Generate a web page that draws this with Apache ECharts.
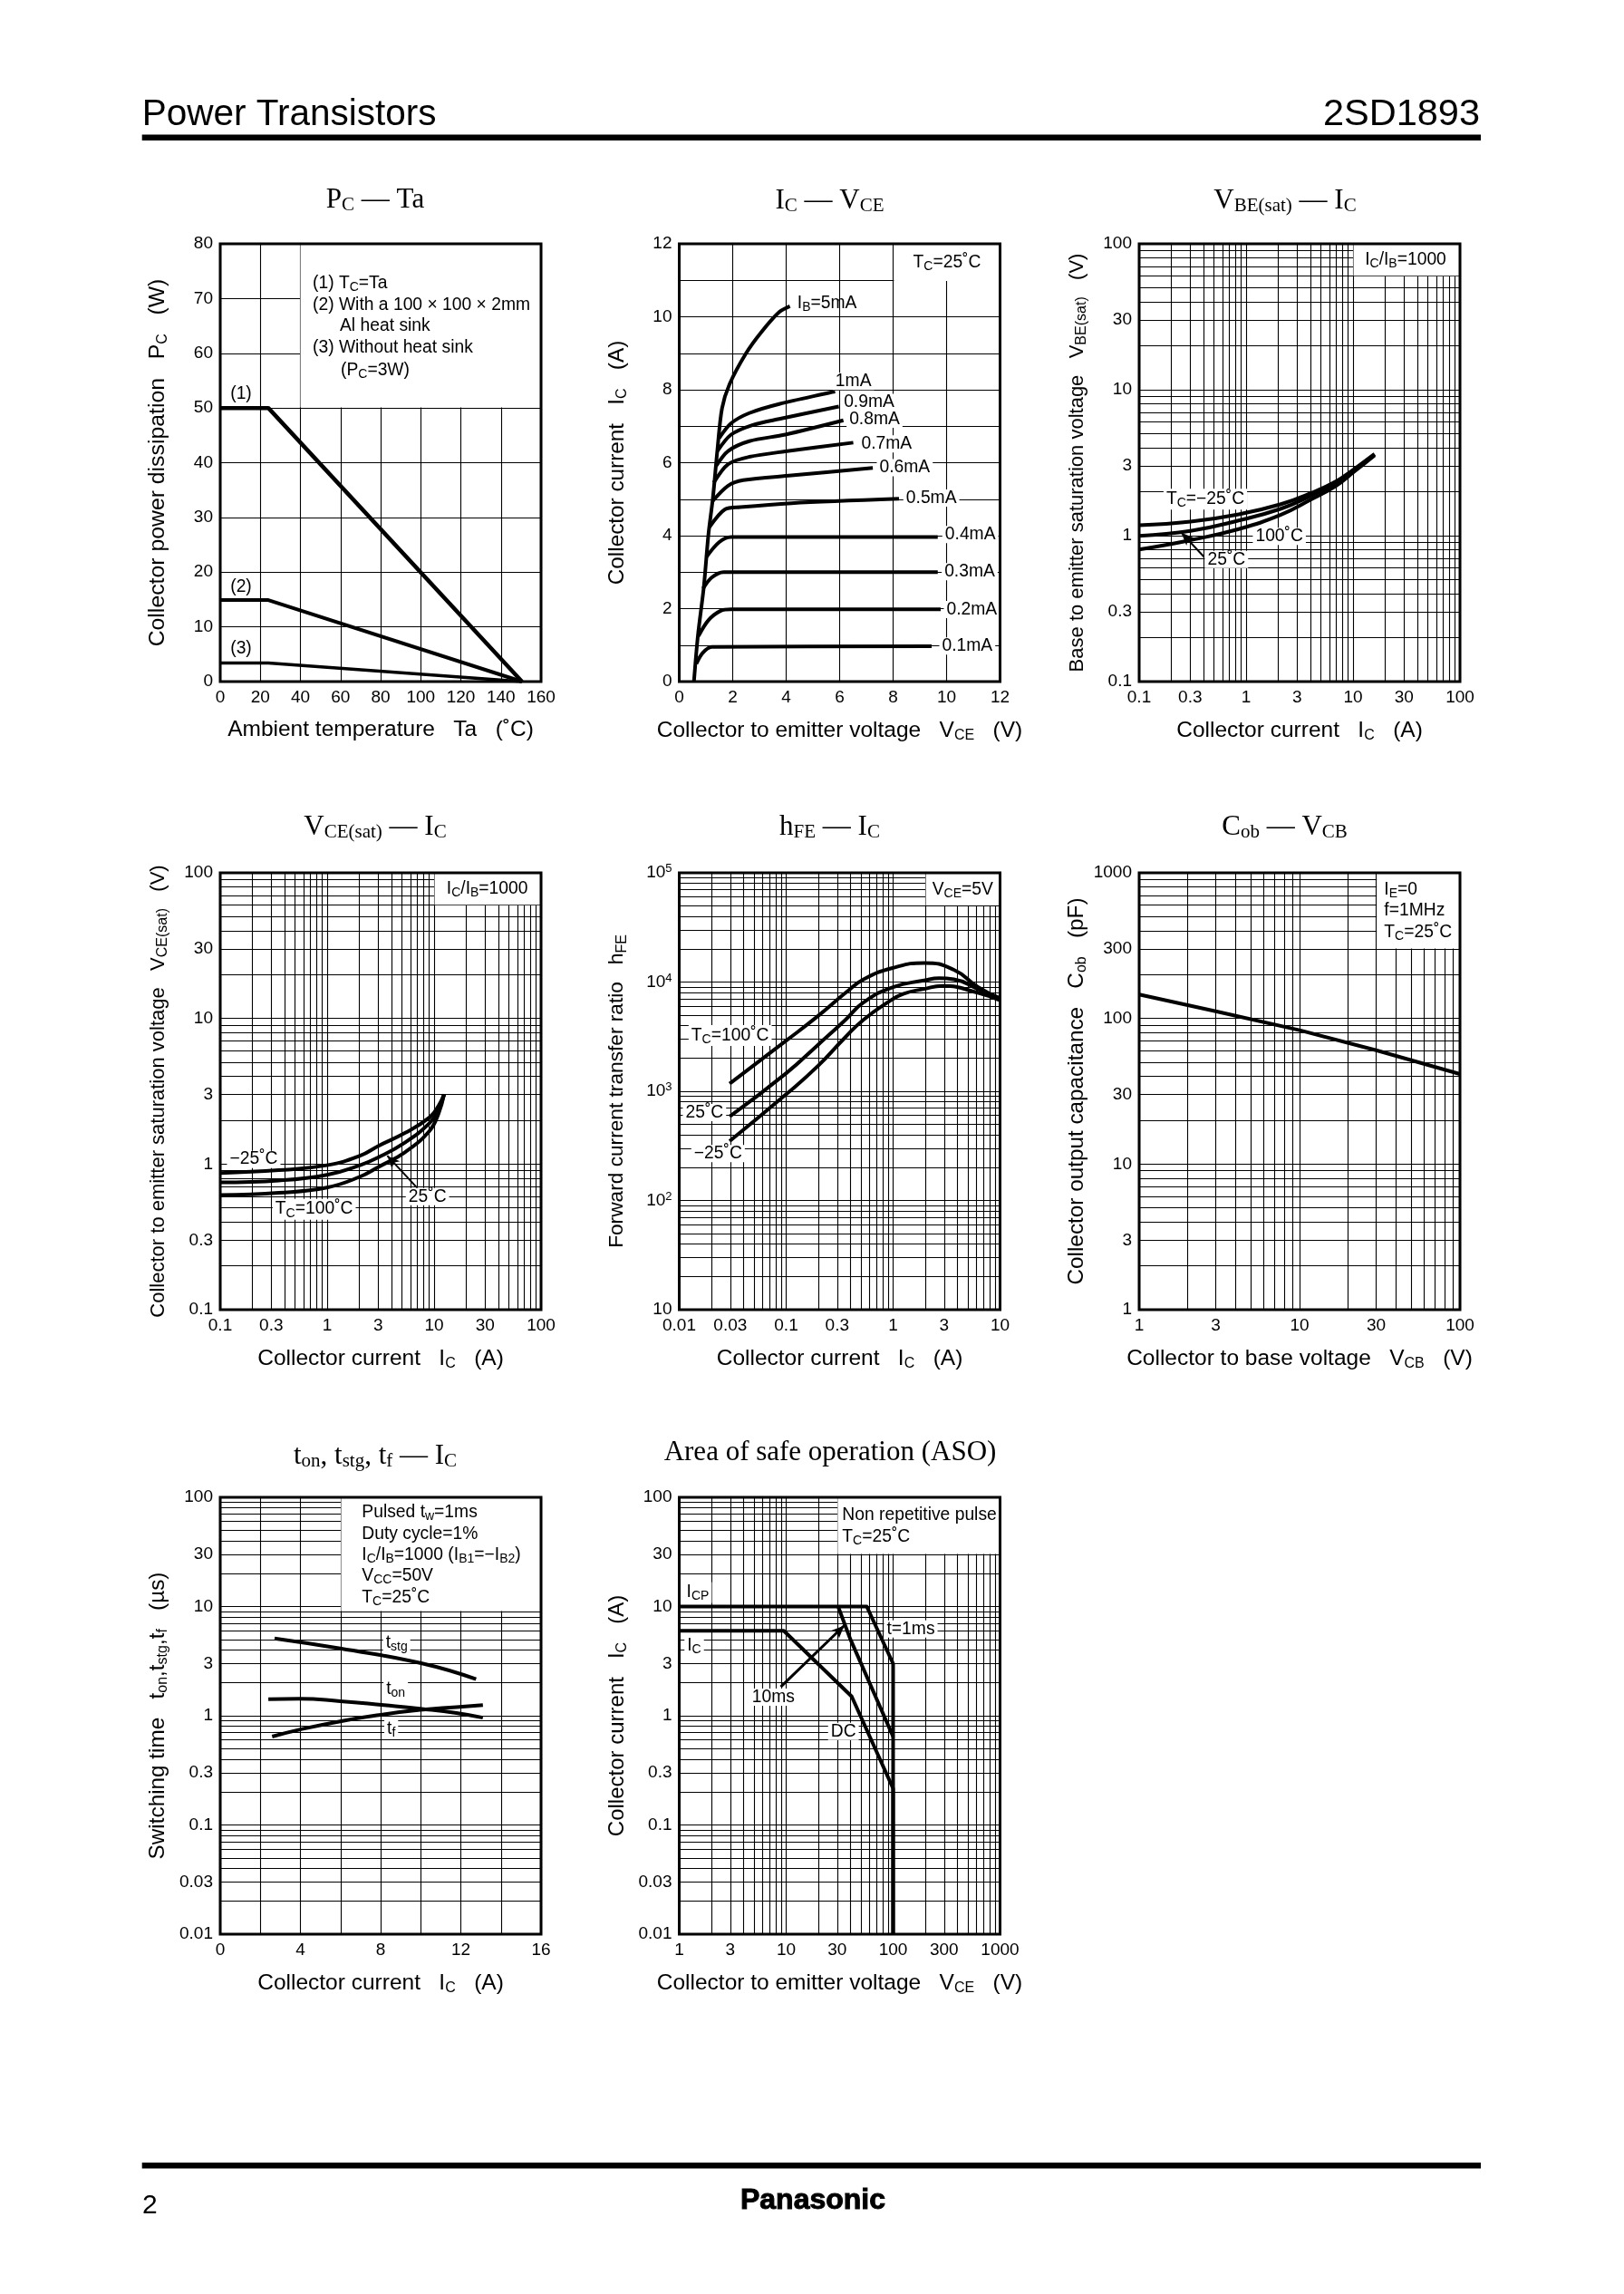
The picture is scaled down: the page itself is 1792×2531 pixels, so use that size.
<!DOCTYPE html>
<html><head><meta charset="utf-8">
<style>html,body{margin:0;padding:0;background:#fff}#c{width:1792px;height:2531px}</style>
<script src="https://cdn.jsdelivr.net/npm/echarts@6/dist/echarts.min.js"></script>
</head><body><div id="c"></div>
<script>
// ---------- values ----------
const pcTa1=[[0,50],[24,50],[150.5,0]];
const pcTa2=[[0,14.9],[24,14.9],[150.5,0]];
const pcTa3=[[0,3.4],[24,3.4],[150.5,0]];

const icEnvelope=[[0.55,0],[0.7,1.27],[0.92,2.6],[1.09,4.02],[1.26,5.04],[1.43,6.37],[1.6,7.49],[1.88,8.15],[2.5,9.0],[3.07,9.58],[3.74,10.13],[4.14,10.29]];
const ic1mA=[[1.49,6.67],[1.94,7.08],[2.62,7.36],[3.74,7.61],[5.83,7.95]];
const ic09=[[1.43,6.32],[1.94,6.77],[2.73,7.03],[3.74,7.2],[5.97,7.54]];
const ic08=[[1.38,5.91],[1.83,6.32],[2.62,6.59],[3.97,6.77],[6.14,7.16]];
const ic07=[[1.29,5.45],[1.83,5.96],[2.62,6.16],[3.97,6.31],[6.51,6.55]];
const ic06=[[1.24,4.94],[1.83,5.37],[2.39,5.52],[4.2,5.65],[7.24,5.86]];
const ic05=[[1.13,4.23],[1.71,4.72],[2.28,4.78],[4.2,4.89],[8.22,5.01]];
const ic04=[[1.01,3.41],[1.49,3.82],[1.94,3.96],[9.67,3.96]];
const ic03=[[0.89,2.55],[1.21,2.85],[1.66,3.0],[9.67,3.0]];
const ic02=[[0.72,1.25],[1.09,1.68],[1.55,1.94],[1.94,1.98],[9.78,1.98]];
const ic01=[[0.64,0.49],[0.87,0.78],[1.21,0.95],[9.44,0.97]];

const vbeIc=[0.1,0.302,0.853,2.12,4.06,6.83,10.1,15.9];
const vbeM25=[1.178,1.247,1.40,1.644,1.96,2.34,2.84,3.63];
const vbe25=[0.998,1.077,1.27,1.53,1.88,2.28,2.79,3.59];
const vbe100=[0.803,0.931,1.11,1.39,1.77,2.18,2.72,3.55];
const vbeLeader=[[0.248,1.047],[0.405,0.714]];

const vceIc=[0.1,0.352,0.995,2.03,3.0,5.38,9.06,11,12.4];
const vceM25=[0.869,0.908,0.982,1.14,1.33,1.64,2.09,2.51,3.01];
const vce25=[0.748,0.771,0.844,0.982,1.11,1.41,1.91,2.36,3.01];
const vce100=[0.612,0.635,0.69,0.819,0.953,1.21,1.69,2.22,3.01];
const vceLeader=[[3.65,1.14],[6.98,0.683]];

const hfe100=[[0.0296,1175],[0.1,2905],[0.2,4915],[0.36,7980],[0.53,10590],[1,13490],[1.95,14970],[3.7,12950],[6.2,8996],[10,7063]];
const hfe25=[[0.0296,587],[0.1,1462],[0.2,2680],[0.36,4530],[0.53,6516],[1,8996],[1.95,10330],[2.7,10840],[3.7,10590],[6.2,8650],[10,7063]];
const hfeM25=[[0.0296,350],[0.1,938],[0.2,1718],[0.36,3148],[0.53,4530],[0.89,6516],[1.24,7780],[1.95,8650],[2.9,9230],[6.2,7980],[10,6790]];

const cobLine=[[1,146],[3,112],[10,83],[30,60.5],[100,41.5]];

const tStg=[[2.71,5.1],[5.98,4.13],[9.97,3.04],[12.76,2.16]];
const tOn=[[2.4,1.42],[3.95,1.43],[5.98,1.36],[8.17,1.25],[9.97,1.16],[11.78,1.06],[13.1,0.96]];
const tF=[[2.59,0.644],[3.95,0.745],[5.98,0.889],[8.17,1.03],[9.97,1.13],[11.78,1.2],[13.1,1.25]];

const asoIcp=[[1,10],[56.7,10],[100,3],[100,0.01]];
const asoIc=[[1,6],[9.5,6],[41,1.5],[100,0.216],[100,0.01]];
const aso10ms=[[30.6,10],[39.7,5.06],[100,0.644]];
const asoLeader=[[34.9,6.7],[8.9,1.84]];

// tick labels
const ticks125=[0.1,0.3,1,3,10,30,100];
const hfeXTicks=[0.01,0.03,0.1,0.3,1,3,10];
const hfeYTicks=[10,100,1000,10000,100000];
const cobXTicks=[1,3,10,30,100];
const cobYTicks=[1,3,10,30,100,300,1000];
const swYTicks=[0.01,0.03,0.1,0.3,1,3,10,30,100];
const asoXTicks=[1,3,10,30,100,300,1000];

// ---------- layout ----------
const SANS='"Liberation Sans",Arial,sans-serif', SERIF='"Liberation Serif","Times New Roman",serif';
const colX=[243,749.5,1257], rowY=[269,963,1652], W=354, H=[483,482,482];
const sub={fontSize:14,fontFamily:SANS,fill:'#000',color:'#000',padding:[9,0,0,0]};
const nameSub={fontSize:16,fontFamily:SANS,color:'#000',padding:[11,0,0,0]};
const titleSub={fontSize:21,fontFamily:SERIF,fontWeight:'normal',color:'#000',padding:[11,0,0,0]};
const GRIDW=1.1, CURVE=4;

function decades(min,max){const out=[];for(let d=Math.round(Math.log10(min));d<Math.round(Math.log10(max));d++){for(let m=1;m<10;m++)out.push(+(m*Math.pow(10,d)).toPrecision(3));}out.push(max);return out;}

function base(pos,name,gap,fs){
  return {gridIndex:0,position:pos,nameLocation:'middle',name:name,nameGap:gap,
    nameTextStyle:{fontFamily:SANS,fontSize:fs,color:'#000',rich:{s:nameSub}},
    axisLine:{show:false},splitLine:{show:true,lineStyle:{color:'#000',width:GRIDW,opacity:1}},
    axisTick:{show:false},
    axisLabel:{show:true,color:'#000',fontFamily:SANS,fontSize:19,margin:pos==='bottom'?8.5:8,hideOverlap:false,showMinLabel:true,showMaxLabel:true}};
}
function linAxis(pos,name,gap,fs,min,max,interval,minor){
  const a=base(pos,name,gap,fs);a.type='value';a.min=min;a.max=max;a.interval=interval;
  if(minor){a.minorSplitLine={show:true,lineStyle:{color:'#000',width:GRIDW}};a.minorTick={show:false,splitNumber:minor};}
  return a;
}
function logAxis(pos,name,gap,fs,min,max,labels,fmt){
  const a=base(pos,name,gap,fs);a.type='log';a.logBase=10;a.min=min;a.max=max;
  a.axisTick.customValues=decades(min,max);a.axisLabel.customValues=labels;
  if(fmt)a.axisLabel.formatter=fmt;else a.axisLabel.formatter=v=>String(+(+v).toPrecision(3));
  return a;
}
const XG=41, YG=55, XF=24.5;
const charts=[
 {x:linAxis('bottom','Ambient temperature   Ta   (˚C)',XG,XF,0,160,20),
  y:linAxis('left','Collector power dissipation   P{s|C}   (W)',YG,24.8,0,80,10),
  box:[[40,50.1],[160,80]],
  lines:[[pcTa1,4.5],[pcTa2,CURVE],[pcTa3,3.5]]},
 {x:linAxis('bottom','Collector to emitter voltage   V{s|CE}   (V)',XG,XF,0,12,2),
  y:linAxis('left','Collector current   I{s|C}   (A)',YG,24.3,0,12,2,2),
  box:[[8.03,10.98],[12,12]],
  lines:[ic01,ic02,ic03,ic04,ic05,ic06,ic07,ic08,ic09,ic1mA,icEnvelope].map(d=>[d,CURVE,0.3])},
 {x:logAxis('bottom','Collector current   I{s|C}   (A)',XG,XF,0.1,100,ticks125),
  y:logAxis('left','Base to emitter saturation voltage   V{s|BE(sat)}   (V)',YG,22,0.1,100,ticks125),
  box:[[10.1,60.4],[100,100]],
  lines:[[zip(vbeIc,vbeM25),CURVE,0.45],[zip(vbeIc,vbe25),CURVE,0.45],[zip(vbeIc,vbe100),CURVE,0.45]],
  arrow:[vbeLeader,45,2]},
 {x:logAxis('bottom','Collector current   I{s|C}   (A)',XG,XF,0.1,100,ticks125),
  y:logAxis('left','Collector to emitter saturation voltage   V{s|CE(sat)}   (V)',YG,22,0.1,100,ticks125),
  box:[[10.1,60.4],[100,100]],
  lines:[[zip(vceIc,vceM25),CURVE,0.45],[zip(vceIc,vce25),CURVE,0.45],[zip(vceIc,vce100),CURVE,0.45]],
  arrow:[vceLeader,43,2]},
 {x:logAxis('bottom','Collector current   I{s|C}   (A)',XG,XF,0.01,10,hfeXTicks),
  y:logAxis('left','Forward current transfer ratio   h{s|FE}',YG,22.7,10,100000,hfeYTicks,
    v=>{const e=Math.round(Math.log10(+v));return e===1?'10':'10{e|'+e+'}';}),
  box:[[2.02,50300],[10,100000]],
  lines:[[hfe100,CURVE,0.5],[hfe25,CURVE,0.5],[hfeM25,CURVE,0.5]]},
 {x:logAxis('bottom','Collector to base voltage   V{s|CB}   (V)',XG,XF,1,100,cobXTicks),
  y:logAxis('left','Collector output capacitance   C{s|ob}   (pF)',YG,24.3,1,1000,cobYTicks),
  box:[[30.3,302],[100,1000]],
  lines:[[cobLine,CURVE]]},
 {x:linAxis('bottom','Collector current   I{s|C}   (A)',XG,XF,0,16,4,2),
  y:logAxis('left','Switching time   t{s|on},t{s|stg},t{s|f}   (µs)',YG,24.3,0.01,100,swYTicks),
  box:[[6.03,9.07],[16,100]],
  lines:[[tStg,CURVE,0.5],[tOn,CURVE,0.5],[tF,CURVE,0.5]]},
 {x:logAxis('bottom','Collector to emitter voltage   V{s|CE}   (V)',XG,XF,1,1000,asoXTicks),
  y:logAxis('left','Collector current   I{s|C}   (A)',YG,24,0.01,100,swYTicks),
  box:[[30.3,30.3],[1000,100]],
  lines:[[asoIcp,CURVE],[asoIc,CURVE],[aso10ms,CURVE]],
  arrow:[asoLeader,-45,3]}
];
function zip(a,b){return a.map((v,i)=>[v,b[i]]);}

// ---------- assembling ----------
const grids=[],xAxes=[],yAxes=[],series=[];
charts.forEach((c,i)=>{
  const col=i%3,row=Math.floor(i/3);
  grids.push({left:colX[col],top:rowY[row],width:W,height:H[row],show:true,z:10,borderColor:'#000',borderWidth:3,backgroundColor:'transparent',containLabel:false});
  c.x.gridIndex=i;c.y.gridIndex=i;
  c.y.axisLabel.rich={e:{fontSize:13,fontFamily:SANS,color:'#000',padding:[0,0,9,0]}};
  xAxes.push(c.x);yAxes.push(c.y);
  c.lines.forEach((l,j)=>{
    const s={type:'line',xAxisIndex:i,yAxisIndex:i,data:l[0],symbol:'none',showSymbol:false,silent:true,animation:false,z:4,
      lineStyle:{color:'#000',width:l[1],cap:'butt',join:'round'},smooth:l[2]||false};
    if(j===0)s.markArea={silent:true,z:3,animation:false,itemStyle:{color:'#fff',opacity:1,borderWidth:0},data:[[{coord:c.box[0]},{coord:c.box[1]}]]};
    series.push(s);
  });
  if(c.arrow){
    const [pts,rot,w]=c.arrow;
    series.push({type:'line',xAxisIndex:i,yAxisIndex:i,silent:true,animation:false,z:4,symbol:'none',showAllSymbol:true,
      lineStyle:{color:'#000',width:w},itemStyle:{color:'#000'},
      data:[{value:pts[0],symbol:'arrow',symbolSize:[9,14],symbolRotate:rot},{value:pts[1],symbol:'none'}]});
  }
});

// ---------- texts ----------
const TS={fontFamily:SERIF,fontSize:31,fontWeight:'normal',color:'#000',rich:{s:titleSub}};
const titles=[
 ['P{s|C} — Ta',414,221],['I{s|C} — V{s|CE}',915.5,222],['V{s|BE(sat)} — I{s|C}',1418,222],
 ['V{s|CE(sat)} — I{s|C}',414,913],['h{s|FE} — I{s|C}',915.5,913],['C{s|ob} — V{s|CB}',1417.5,913],
 ['t{s|on}, t{s|stg}, t{s|f} — I{s|C}',414,1607],['Area of safe operation (ASO)',916,1603]
].map(t=>({text:t[0],left:t[1],top:t[2],textAlign:'center',textVerticalAlign:'middle',textStyle:TS,padding:0}));

const Z={a:[140,80,2.053],b:[660,200,2.4375],c:[1180,200,2.4375],d:[140,890,2.364],e:[660,890,2.364],f:[1180,890,2.364],g:[140,1590,2.364],h:[660,1590,2.364]};
const notes=[
 ['a',615,478,'(1) T{s|C}=Ta','left',0],['a',615,527,'(2) With a 100 × 100 × 2mm','left',0],['a',705,575,'Al heat sink','left',0],
 ['a',615,623,'(3) Without heat sink','left',0],['a',708,675,'(P{s|C}=3W)','left',0],
 ['a',378,728,'(1)','center',0],['a',378,1165,'(2)','center',0],['a',378,1305,'(3)','center',0],
 ['b',1155,218,'T{s|C}=25˚C','center',0],['b',758,328,'I{s|B}=5mA','center',0],['b',845,538,'1mA','center',1],['b',897,595,'0.9mA','center',1],
 ['b',915,640,'0.8mA','center',1],['b',955,706,'0.7mA','center',1],['b',1015,770,'0.6mA','center',1],['b',1103,852,'0.5mA','center',1],
 ['b',1232,950,'0.4mA','center',1],['b',1230,1050,'0.3mA','center',1],['b',1237,1152,'0.2mA','center',1],['b',1222,1250,'0.1mA','center',1],
 ['c',1113,212,'I{s|C}/I{s|B}=1000','center',0],['c',450,855,'T{s|C}=−25˚C','center',1],['c',695,955,'100˚C','center',1],['c',520,1017,'25˚C','center',1],
 ['d',1193,214,'I{s|C}/I{s|B}=1000','center',0],['d',420,920,'−25˚C','center',1],['d',620,1050,'T{s|C}=100˚C','center',1],['d',995,1017,'25˚C','center',1],
 ['e',1207,217,'V{s|CE}=5V','center',0],['e',437,597,'T{s|C}=100˚C','center',1],['e',352,798,'25˚C','center',1],['e',397,905,'−25˚C','center',1],
 ['f',1042,217,'I{s|E}=0','left',0],['f',1042,270,'f=1MHz','left',0],['f',1042,327,'T{s|C}=25˚C','left',0],
 ['g',778,185,'Pulsed t{s|w}=1ms','left',0],['g',778,242,'Duty cycle=1%','left',0],['g',778,297,'I{s|C}/I{s|B}=1000 (I{s|B1}=−I{s|B2})','left',0],
 ['g',778,352,'V{s|CC}=50V','left',0],['g',778,408,'T{s|C}=25˚C','left',0],
 ['g',893,527,'t{s|stg}','center',1],['g',890,648,'t{s|on}','center',1],['g',875,750,'t{s|f}','center',1],
 ['h',808,193,'Non repetitive pulse','left',0],['h',808,250,'T{s|C}=25˚C','left',0],['h',330,395,'I{s|CP}','center',1],['h',318,533,'I{s|C}','center',1],
 ['h',1035,490,'t=1ms','center',1],['h',580,668,'10ms','center',1],['h',812,757,'DC','center',1]
];
const graphic=notes.map(n=>{const o=Z[n[0]];return {type:'text',silent:true,z:8,x:o[0]+n[1]/3,y:o[1]+n[2]/o[2],
  style:{text:n[3],fontFamily:SANS,fontSize:19.3,fill:'#000',align:n[4],verticalAlign:'middle',rich:{s:sub},
  backgroundColor:n[5]?'#fff':undefined,padding:n[5]?[0,3]:0}};});
function head(text,x,y,fs,align,w,extra){return {type:'text',silent:true,z:8,x:x,y:y,style:Object.assign({text:text,fontFamily:SANS,fontSize:fs,fontWeight:w||'normal',fill:'#000',align:align,verticalAlign:'middle'},extra||{})};}
graphic.push(
 {type:'rect',silent:true,z:8,shape:{x:156.7,y:148.5,width:1477.3,height:6.5},style:{fill:'#000'}},
 {type:'rect',silent:true,z:8,shape:{x:156.7,y:2386,width:1477.3,height:6.5},style:{fill:'#000'}},
 head('Power Transistors',156.7,127,40.5,'left'),
 head('2SD1893',1633,127,41.5,'right'),
 head('2',157,2434,30,'left'),
 head('Panasonic',897,2428,32,'center','bold',{stroke:'#000',lineWidth:1})
);

const chart=echarts.init(document.getElementById('c'),null,{renderer:'canvas',width:1792,height:2531});
chart.setOption({animation:false,backgroundColor:'#fff',title:titles,grid:grids,xAxis:xAxes,yAxis:yAxes,series:series,graphic:graphic});
</script></body></html>
